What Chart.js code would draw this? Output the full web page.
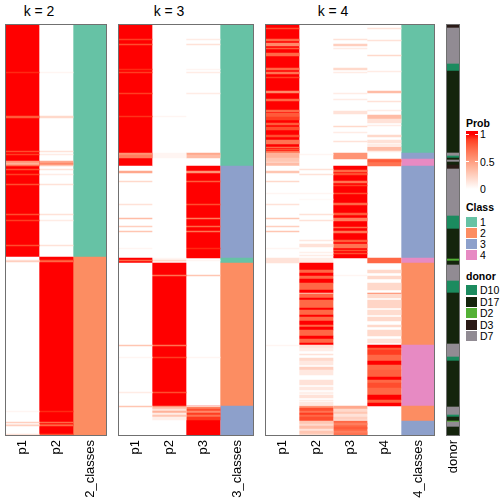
<!DOCTYPE html>
<html><head><meta charset="utf-8">
<script src="https://cdn.jsdelivr.net/npm/chart.js@4.4.0/dist/chart.umd.min.js"></script>
<style>
body{margin:0;background:#fff;width:504px;height:504px;overflow:hidden;position:relative;font-family:"Liberation Sans",Arial,sans-serif;}
canvas{position:absolute;}
.t{position:absolute;font-size:14px;color:#000;transform:translate(-50%,-50%);white-space:nowrap;line-height:1;}
.lt{position:absolute;font-size:10.5px;font-weight:bold;color:#000;white-space:nowrap;line-height:1;transform:translateY(-50%);}
.ll{position:absolute;font-size:10.5px;color:#000;white-space:nowrap;line-height:1;transform:translateY(-50%);}
.box{position:absolute;width:11px;height:10px;}
</style></head><body>
<div class="t" style="left:39px;top:11px">k = 2</div>
<div class="t" style="left:169px;top:11px">k = 3</div>
<div class="t" style="left:333px;top:11px">k = 4</div>
<canvas id="c2" width="102" height="480" style="left:5px;top:24px"></canvas>
<canvas id="c3" width="136" height="480" style="left:118px;top:24px"></canvas>
<canvas id="c4" width="170" height="480" style="left:265px;top:24px"></canvas>
<canvas id="cd" width="14" height="480" style="left:446px;top:24px"></canvas>
<div id="legend"></div>
<script>
// ---------------- data ----------------
const ROWS = 412;
const k2_columns = ['p1','p2','2_classes'];
const k3_columns = ['p1','p2','p3','3_classes'];
const k4_columns = ['p1','p2','p3','p4','4_classes'];
const donor_columns = ['donor'];

// segments: [startRow, endRow, value]; later segments override earlier ones
const k2_p1 = [[0,233,1],[48,49,0.95],[92,94,0.8],[127,128,0.85],[130,131,0.9],[137,139,0.55],[139,141,0.4],[141,142,0.7],[145,146,0.85],[150,151,0.9],[160,161,0.85],[190,191,0.85],[196,197,0.9],[221,222,0.85],
  [233,412,0],[236,237,0.15],[237,238,0.25],[387,388,0.05],[398,399,0.25],[400,401,0.1],[401,402,0.25],[410,411,0.15]];
const k2_p2 = [[0,233,0],[48,49,0.05],[92,94,0.2],[127,128,0.15],[130,131,0.1],[137,139,0.45],[139,141,0.6],[141,142,0.3],[145,146,0.15],[150,151,0.1],[160,161,0.15],[190,191,0.15],[196,197,0.1],[221,222,0.15],
  [233,412,1],[236,237,0.85],[237,238,0.75],[387,388,0.95],[398,399,0.75],[400,401,0.9],[401,402,0.75],[410,411,0.85]];
const k2_class = [[0,233,1],[233,412,2]];

const k3_p1 = [[0,142,1],[15,16,0.9],[20,21,0.85],[45,46,0.95],[48,49,0.9],[69,70,0.9],[92,93,0.93],[129,131,0.55],[131,134,0.65],
  [142,234,0],[147,149,0.45],[157,158,0.2],[180,181,0.15],[194,195,0.35],[202,203,0.25],[207,208,0.3],[224,225,0.05],
  [234,239,1],[236,237,0.75],[239,412,0],[321,322,0.3],[333,334,0.05],[368,369,0.1],[382,383,0.3]];
const k3_p2 = [[0,412,0],[92,93,0.05],[129,134,0.05],[234,239,0.05],[236,237,0.2],[239,382,1],[251,252,0.7],[321,322,0.7],[333,334,0.9],[368,369,0.85],
  [382,383,0.6],[383,385,0.35],[385,387,0.15],[387,389,0.4],[389,391,0.1],[391,393,0.3],[393,396,0.08]];
const k3_p3 = [[0,412,0],[15,16,0.1],[20,21,0.15],[45,46,0.05],[48,49,0.1],[69,70,0.1],[129,131,0.45],[131,134,0.35],
  [142,234,1],[147,149,0.55],[157,158,0.8],[180,181,0.85],[194,195,0.65],[202,203,0.75],[207,208,0.7],[224,225,0.95],[236,237,0.05],[251,252,0.3],[333,334,0.05],
  [382,412,1],[382,383,0.1],[383,385,0.65],[385,387,0.85],[387,389,0.6],[389,391,0.9],[391,393,0.7],[393,396,0.92]];
const k3_class = [[0,142,1],[142,234,3],[234,239,1],[239,382,2],[382,412,3]];

const k4_p1 = [[0,129,1],[4,5,0.85],[15,17,0.75],[19,22,0.6],[24,25,0.8],[29,32,0.75],[44,46,0.75],[48,50,0.7],[53,54,0.9],[67,69,0.6],[75,77,0.75],[86,88,0.75],[89,93,0.8],[93,96,0.9],[99,101,0.8],[103,106,0.85],[111,113,0.85],[116,120,0.7],[123,124,0.75],[125,126,0.85],[127,129,0.7],
  [129,134,0.4],[134,138,0.3],[138,139,0.2],[139,142,0.35],
  [142,412,0],[147,149,0.3],[157,158,0.2],[169,170,0.05],[180,181,0.15],[194,195,0.3],[202,203,0.25],[207,208,0.3],[224,225,0.05],[234,239,0.15],[321,322,0.05]];
const k4_p2 = [[0,412,0],[130,131,0.05],[145,146,0.15],[150,151,0.15],[169,170,0.05],[175,176,0.03],[190,191,0.15],[196,197,0.15],[216,217,0.12],[220,223,0.15],[228,229,0.08],[231,232,0.1],[234,239,0.1],
  [239,246,1],[246,249,0.75],[249,252,1],[252,255,0.75],[255,259,1],[259,266,0.75],[266,269,1],[269,270,0.3],[270,274,0.75],[274,276,1],[276,284,0.75],[284,286,1],[286,291,0.75],[291,293,1],[293,297,0.75],[297,301,1],[301,303,0.75],[303,306,1],[306,312,0.75],[312,315,1],[315,319,0.75],[319,321,1],
  [321,324,0.15],[324,327,0.1],[330,331,0.15],[334,337,0.2],[337,341,0.12],[343,346,0.25],[346,351,0.12],[356,361,0.15],[363,366,0.12],[368,370,0.08],[371,374,0.15],[376,377,0.1],[378,381,0.12],
  [382,384,0.55],[384,387,0.85],[387,389,0.7],[389,391,0.9],[391,393,0.75],[393,397,0.85],[397,400,0.3],[400,402,0.2],[402,405,0.35],[405,407,0.15],[407,410,0.3],[410,412,0.2]];
const k4_p3 = [[0,412,0],[15,16,0.15],[20,22,0.25],[24,25,0.1],[44,46,0.2],[48,49,0.1],[69,70,0.1],[75,76,0.1],[87,90,0.15],[102,103,0.2],[108,109,0.1],[117,118,0.15],[129,135,0.55],
  [142,234,1],[146,148,0.75],[149,151,0.85],[157,159,0.7],[161,162,0.9],[169,170,0.85],[179,181,0.75],[189,191,0.8],[194,197,0.65],[203,204,0.75],[207,209,0.7],[216,218,0.8],[220,224,0.7],[226,227,0.85],[229,230,0.85],
  [251,252,0.05],[382,385,0.45],[385,388,0.2],[388,390,0.3],[390,393,0.15],[393,396,0.25],[396,397,0.1],
  [397,412,0.75],[399,401,0.65],[403,405,0.8],[407,409,0.65],[409,411,0.7]];
const k4_p4 = [[0,412,0],[4,5,0.15],[16,17,0.15],[31,32,0.2],[47,48,0.1],[67,69,0.35],[77,78,0.15],[86,87,0.1],[91,95,0.35],[95,99,0.15],[101,102,0.1],[111,113,0.2],[116,119,0.15],[120,122,0.1],[123,127,0.35],[127,128,0.1],
  [135,142,0.7],[136,138,0.8],[234,239,0.75],
  [246,249,0.2],[252,255,0.2],[259,266,0.2],[269,270,0.6],[270,274,0.2],[276,284,0.22],[286,291,0.18],[293,297,0.2],[301,303,0.2],[306,312,0.2],[315,319,0.15],
  [321,324,1],[324,326,0.8],[326,331,0.9],[331,337,0.75],[337,341,1],[341,346,0.75],[346,353,0.78],[353,356,1],[356,359,0.75],[359,364,0.85],[364,371,0.75],[371,376,1],[376,379,0.78],[379,382,1]];
const k4_class = [[0,129,1],[129,135,3],[135,142,4],[142,234,3],[234,239,4],[239,321,2],[321,382,4],[382,397,2],[397,412,3]];

const donor = [[0,4,'D3'],[4,40,'D7'],[40,47,'D10'],[47,129,'D17'],[129,132,'D7'],[132,134,'D10'],[134,136,'D17'],[136,138,'D7'],[138,141,'D17'],[141,145,'D3'],[145,192,'D7'],[192,205,'D10'],[205,235,'D17'],[235,237,'D2'],[237,241,'D17'],[241,257,'D7'],[257,269,'D10'],[269,320,'D17'],[320,333,'D7'],[333,337,'D10'],[337,383,'D17'],[383,391,'D7'],[391,393,'D10'],[393,397,'D17'],[397,398,'D2'],[398,403,'D7'],[403,412,'D17']];

const classColors = {1:'#66C2A5',2:'#FC8D62',3:'#8DA0CB',4:'#E78AC3'};
const donorColors = {D10:'#1B8B5F',D17:'#14240D',D2:'#53B136',D3:'#2A1A16',D7:'#918B93'};
const classLegend = ['1','2','3','4'];
const donorLegend = ['D10','D17','D2','D3','D7'];
const probTicks = [1, 0.5, 0];

// ---------------- colour ramp (LAB white -> red) ----------------
function s2l(c){c/=255;return c<=0.04045?c/12.92:Math.pow((c+0.055)/1.055,2.4);}
function l2s(c){c=Math.max(0,Math.min(1,c));return Math.round(255*(c<=0.0031308?12.92*c:1.055*Math.pow(c,1/2.4)-0.055));}
function rgbToLab(rgb){const R=s2l(rgb[0]),G=s2l(rgb[1]),B=s2l(rgb[2]);
  const X=(0.4124*R+0.3576*G+0.1805*B)/0.95047,Y=0.2126*R+0.7152*G+0.0722*B,Z=(0.0193*R+0.1192*G+0.9505*B)/1.08883;
  const f=t=>t>0.008856?Math.cbrt(t):7.787*t+16/116;const fx=f(X),fy=f(Y),fz=f(Z);
  return [116*fy-16,500*(fx-fy),200*(fy-fz)];}
function labToRgb(lab){const fy=(lab[0]+16)/116,fx=fy+lab[1]/500,fz=fy-lab[2]/200;
  const g=t=>t*t*t>0.008856?t*t*t:(t-16/116)/7.787;
  const X=g(fx)*0.95047,Y=g(fy),Z=g(fz)*1.08883;
  return [l2s(3.2406*X-1.5372*Y-0.4986*Z),l2s(-0.9689*X+1.8758*Y+0.0415*Z),l2s(0.0557*X-0.2040*Y+1.0570*Z)];}
const LW=rgbToLab([255,255,255]),LR=rgbToLab([255,0,0]);
function probColor(v){const c=labToRgb(LW.map((w,i)=>w+(LR[i]-w)*v));return `rgb(${c[0]},${c[1]},${c[2]})`;}

// ---------------- chart helpers ----------------
function ds(col, segs, colorFn){
  return {label:col, data:segs.map(s=>({x:col,y:[s[0],s[1]]})), backgroundColor:segs.map(s=>colorFn(s[2]))};
}
const frame = {id:'frame', afterDatasetsDraw(chart){
  const {ctx, chartArea:a} = chart; ctx.save(); ctx.strokeStyle='#707070'; ctx.lineWidth=1;
  ctx.strokeRect(a.left+0.5,a.top+0.5,a.width-1,a.height-1); ctx.restore();}};
function makeChart(id, labels, datasets){
  return new Chart(document.getElementById(id), {
    type:'bar',
    data:{labels, datasets},
    options:{
      responsive:false, animation:false, devicePixelRatio:1,
      layout:{padding:0},
      datasets:{bar:{grouped:false, barPercentage:1, categoryPercentage:1, borderWidth:0, borderSkipped:false}},
      plugins:{legend:{display:false}, tooltip:{enabled:false}, title:{display:false}},
      scales:{
        x:{type:'category', grid:{display:false, drawTicks:false}, border:{display:false},
           ticks:{minRotation:90, maxRotation:90, padding:4, autoSkip:false, color:'#000', font:{family:'Liberation Sans', size:13}},
           afterFit(s){ s.height = 68; s.paddingLeft = 0; s.paddingRight = 0; }},
        y:{type:'linear', min:0, max:ROWS, reverse:true, display:false}
      }
    },
    plugins:[frame]
  });
}
const classFn = v=>classColors[v];
makeChart('c2', k2_columns, [ds('p1',k2_p1,probColor), ds('p2',k2_p2,probColor), ds('2_classes',k2_class,classFn)]);
makeChart('c3', k3_columns, [ds('p1',k3_p1,probColor), ds('p2',k3_p2,probColor), ds('p3',k3_p3,probColor), ds('3_classes',k3_class,classFn)]);
makeChart('c4', k4_columns, [ds('p1',k4_p1,probColor), ds('p2',k4_p2,probColor), ds('p3',k4_p3,probColor), ds('p4',k4_p4,probColor), ds('4_classes',k4_class,classFn)]);
makeChart('cd', donor_columns, [ds('donor',donor,v=>donorColors[v])]);

// ---------------- legends ----------------
const L = document.getElementById('legend');
function add(cls, style, text){const d=document.createElement('div');d.className=cls;Object.assign(d.style,style);if(text!==undefined)d.textContent=text;L.appendChild(d);return d;}
add('lt',{left:'466px',top:'123px'},'Prob');
const stops=[];for(let i=0;i<=10;i++){const v=1-i/10;stops.push(`${probColor(v)} ${(3+(1-v)*55)}px`);}
add('box',{left:'466px',top:'131px',width:'12px',height:'60px',background:`linear-gradient(to bottom, ${probColor(1)} 0px, ${stops.join(',')}, ${probColor(0)} 60px)`});
probTicks.forEach(v=>{
  const y=134+(1-v)*55;
  add('ll',{left:'480px',top:y+'px'},String(v));
  if(v>0){add('box',{left:'466px',top:(y-0.5)+'px',width:'3px',height:'1px',background:'#fff'});
          add('box',{left:'475px',top:(y-0.5)+'px',width:'3px',height:'1px',background:'#fff'});}
});
add('lt',{left:'466px',top:'207px'},'Class');
classLegend.forEach((c,i)=>{const y=216.5+i*11.1;add('box',{left:'466px',top:y+'px',background:classColors[c]});add('ll',{left:'480px',top:(y+5)+'px'},c);});
add('lt',{left:'466px',top:'276px'},'donor');
donorLegend.forEach((c,i)=>{const y=285+i*11.6;add('box',{left:'466px',top:y+'px',background:donorColors[c]});add('ll',{left:'480px',top:(y+5)+'px'},c);});
</script>
</body></html>
